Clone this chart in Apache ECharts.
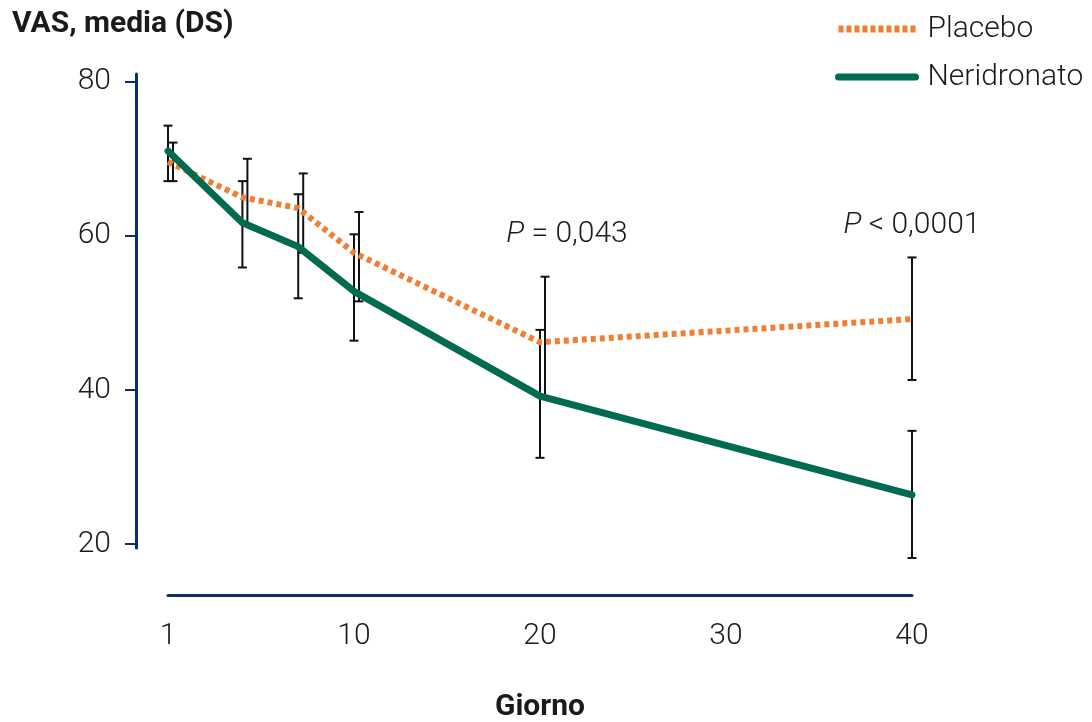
<!DOCTYPE html>
<html>
<head>
<meta charset="utf-8">
<script src="https://cdn.jsdelivr.net/npm/echarts@6/dist/echarts.min.js"></script>
<style>
    html, body { margin: 0; padding: 0; background: #fff; }
    #main { width: 1092px; height: 722px; }
</style>
</head>
<body>
<div id="main"></div>
<script type="text/javascript">
    // giorno 1 (basale) e' disegnato all'origine dell'asse
    var giorni = [0, 4, 7, 10, 20, 40];
    var etichetteGiorni = ['1', '10', '20', '30', '40'];
    var tickY = [20, 40, 60, 80];

    var placeboMedia = [69.6, 65.0, 63.6, 57.8, 46.2, 49.2];
    var placeboSup = [72.1, 70.0, 68.1, 63.1, 54.7, 57.2];
    var placeboInf = [67.1, 61.5, 57.8, 51.5, 39.0, 41.3];

    var neridronatoMedia = [71.0, 61.7, 58.6, 52.8, 39.2, 26.4];
    var neridronatoSup = [74.3, 67.1, 65.4, 60.2, 47.8, 34.7];
    var neridronatoInf = [67.1, 55.9, 51.9, 46.4, 31.2, 18.2];

    var blu = '#0b2d6b';
    var testo = '#1a1a1a';
    var arancio = '#ef7f32';
    var verde = '#006b4f';
    var font = 'Roboto, "Noto Sans", sans-serif';

    function punti(media) {
        return giorni.map(function (g, i) { return [g, media[i]]; });
    }

    // le barre si spostano di lato solo dove si sovrappongono a quelle dell'altro gruppo
    function barre(inf, sup, altroInf, altroSup) {
        return giorni.map(function (g, i) {
            var sovrap = inf[i] < altroSup[i] && altroInf[i] < sup[i] ? 1 : 0;
            return [g, inf[i], sup[i], sovrap];
        });
    }

    function disegnaBarra(spost) {
        return function (params, api) {
            var x = api.coord([api.value(0), api.value(1)])[0] + (api.value(3) ? spost : 0);
            var yInf = api.coord([api.value(0), api.value(1)])[1];
            var ySup = api.coord([api.value(0), api.value(2)])[1];
            var w = 4.5;
            var st = { stroke: '#111', lineWidth: 2 };
            return {
                type: 'group',
                children: [
                    { type: 'line', shape: { x1: x, y1: ySup, x2: x, y2: yInf }, style: st },
                    { type: 'line', shape: { x1: x - w, y1: ySup, x2: x + w, y2: ySup }, style: st },
                    { type: 'line', shape: { x1: x - w, y1: yInf, x2: x + w, y2: yInf }, style: st }
                ]
            };
        };
    }

    var myChart = echarts.init(document.getElementById('main'));
    var option = {
        animation: false,
        backgroundColor: '#fff',
        textStyle: { fontFamily: font },
        title: {
            text: 'VAS, media (DS)',
            left: 12,
            top: 9,
            padding: 0,
            textStyle: { fontFamily: font, fontSize: 30, fontWeight: 'bold', color: testo }
        },
        legend: {
            orient: 'vertical',
            left: 835,
            top: 14,
            padding: 0,
            itemWidth: 77,
            itemHeight: 14,
            itemGap: 18,
            itemStyle: { opacity: 0 },
            data: [
                { name: 'Placebo', lineStyle: { color: arancio, width: 7, type: [5, 3] } },
                { name: 'Neridronato', lineStyle: { color: verde, width: 7, cap: 'round' } }
            ],
            textStyle: { fontFamily: font, fontSize: 30, fontWeight: 300, lineHeight: 30, color: testo, padding: [0, 0, 0, 7] }
        },
        grid: { left: 168, right: 180, top: 74, bottom: 174, containLabel: false, outerBoundsMode: 'none' },
        xAxis: {
            type: 'value',
            min: 0,
            max: 40,
            interval: 10,
            offset: 47,
            axisLine: { onZero: false, lineStyle: { color: blu, width: 3 } },
            axisTick: { show: false },
            splitLine: { show: false },
            axisLabel: {
                margin: 26,
                fontSize: 30,
                fontWeight: 300,
                color: testo,
                formatter: function (v) { return etichetteGiorni[Math.round(v / 10)]; }
            },
            name: 'Giorno',
            nameLocation: 'middle',
            nameGap: 97,
            nameTextStyle: { fontFamily: font, fontSize: 30, fontWeight: 'bold', color: testo }
        },
        yAxis: {
            type: 'value',
            min: 19.5,
            max: 81,
            offset: 32,
            axisLine: { show: true, onZero: false, lineStyle: { color: blu, width: 3 } },
            axisTick: { show: true, length: 11, customValues: tickY, lineStyle: { color: blu, width: 2 } },
            axisLabel: { customValues: tickY, margin: 25, fontSize: 30, fontWeight: 300, color: testo },
            splitLine: { show: false }
        },
        series: [
            {
                name: 'DS Neridronato',
                type: 'custom',
                clip: false,
                z: 2,
                silent: true,
                renderItem: disegnaBarra(0),
                data: barre(neridronatoInf, neridronatoSup, placeboInf, placeboSup)
            },
            {
                name: 'DS Placebo',
                type: 'custom',
                clip: false,
                z: 2,
                silent: true,
                renderItem: disegnaBarra(5),
                data: barre(placeboInf, placeboSup, neridronatoInf, neridronatoSup)
            },
            {
                name: 'Placebo',
                type: 'line',
                z: 3,
                symbol: 'none',
                color: arancio,
                lineStyle: { color: arancio, width: 6, type: [5, 4] },
                data: punti(placeboMedia)
            },
            {
                name: 'Neridronato',
                type: 'line',
                z: 4,
                symbol: 'none',
                color: verde,
                lineStyle: { color: verde, width: 7, cap: 'round', join: 'round' },
                data: punti(neridronatoMedia),
                markPoint: {
                    symbol: 'rect',
                    symbolSize: 1,
                    silent: true,
                    itemStyle: { color: 'rgba(0,0,0,0)' },
                    label: {
                        show: true,
                        position: 'inside',
                        fontSize: 30,
                        fontWeight: 300,
                        color: testo,
                        rich: { i: { fontSize: 30, fontWeight: 300, fontStyle: 'italic', color: testo } }
                    },
                    data: [
                        { coord: [21.45, 60.2], label: { formatter: '{i|P} = 0,043' } },
                        { coord: [40, 61.3], label: { formatter: '{i|P} < 0,0001' } }
                    ]
                }
            }
        ]
    };
    myChart.setOption(option);
</script>
</body>
</html>
